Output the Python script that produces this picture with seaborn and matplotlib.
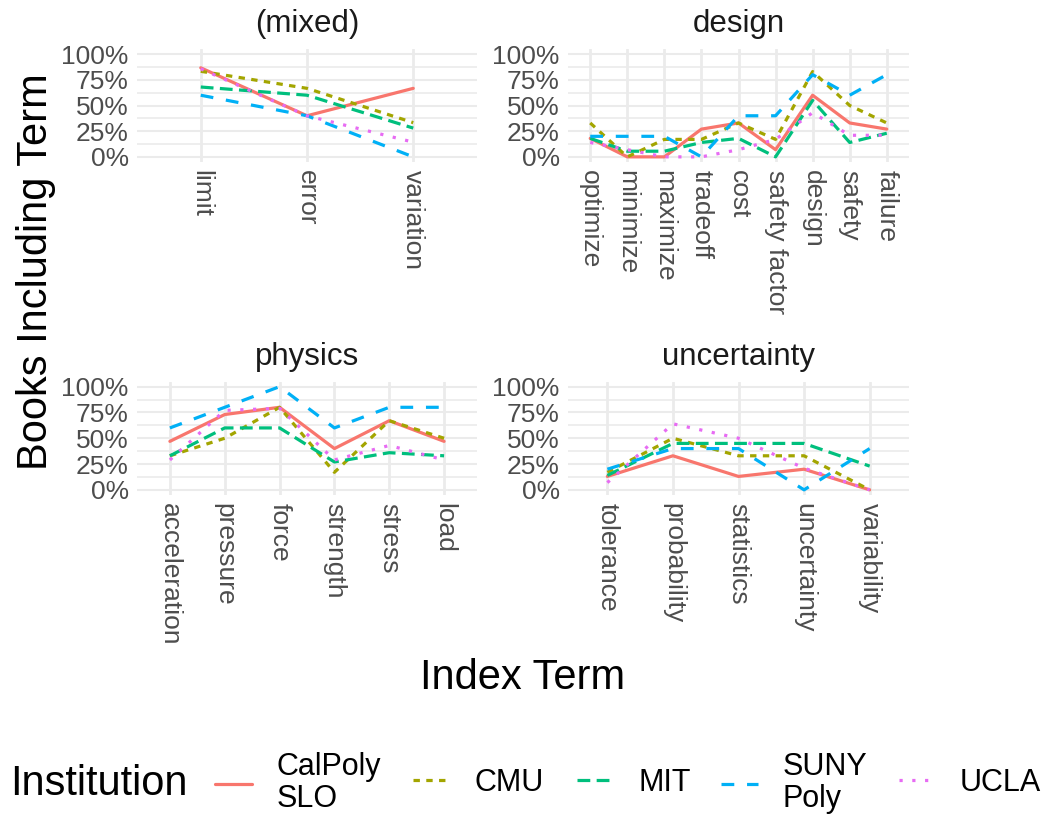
import pandas as pd
import matplotlib
matplotlib.use('Agg')
import matplotlib.pyplot as plt
from matplotlib.lines import Line2D
from matplotlib.ticker import FixedLocator, PercentFormatter
import seaborn as sns

institutions = ['CalPoly SLO', 'CMU', 'MIT', 'SUNY Poly', 'UCLA']
legend_labels = ['CalPoly\nSLO', 'CMU', 'MIT', 'SUNY\nPoly', 'UCLA']
colors = ['#F8766D', '#A3A500', '#00BF7D', '#00B0F6', '#E76BF3']
dash_styles = ['', (2, 2), (4, 2), (4, 4), (1, 3)]

groups = ['(mixed)', 'design', 'physics', 'uncertainty']

mixed_terms = ['limit', 'error', 'variation']
mixed_vals = {
    'CalPoly SLO': [0.867, 0.40, 0.667],
    'CMU': [0.833, 0.667, 0.333],
    'MIT': [0.68, 0.60, 0.28],
    'SUNY Poly': [0.60, 0.40, 0.0],
    'UCLA': [0.857, 0.40, 0.143],
}

design_terms = ['optimize', 'minimize', 'maximize', 'tradeoff', 'cost',
                'safety factor', 'design', 'safety', 'failure']
design_vals = {
    'CalPoly SLO': [0.18, 0.0, 0.0, 0.27, 0.33, 0.07, 0.60, 0.33, 0.27],
    'CMU': [0.33, 0.0, 0.17, 0.17, 0.33, 0.17, 0.83, 0.50, 0.33],
    'MIT': [0.18, 0.055, 0.055, 0.14, 0.18, 0.0, 0.55, 0.14, 0.23],
    'SUNY Poly': [0.20, 0.20, 0.20, 0.0, 0.40, 0.40, 0.80, 0.60, 0.80],
    'UCLA': [0.14, 0.07, 0.0, 0.0, 0.07, 0.17, 0.43, 0.21, 0.21],
}

physics_terms = ['acceleration', 'pressure', 'force', 'strength', 'stress', 'load']
physics_vals = {
    'CalPoly SLO': [0.47, 0.73, 0.80, 0.40, 0.67, 0.47],
    'CMU': [0.33, 0.50, 0.80, 0.17, 0.67, 0.50],
    'MIT': [0.33, 0.60, 0.60, 0.27, 0.36, 0.33],
    'SUNY Poly': [0.60, 0.80, 1.00, 0.60, 0.80, 0.80],
    'UCLA': [0.29, 0.77, 0.79, 0.29, 0.43, 0.29],
}

uncert_terms = ['tolerance', 'probability', 'statistics', 'uncertainty', 'variability']
uncert_vals = {
    'CalPoly SLO': [0.13, 0.33, 0.13, 0.20, 0.0],
    'CMU': [0.17, 0.50, 0.33, 0.33, 0.0],
    'MIT': [0.14, 0.45, 0.45, 0.45, 0.23],
    'SUNY Poly': [0.20, 0.40, 0.40, 0.0, 0.40],
    'UCLA': [0.07, 0.64, 0.50, 0.21, 0.0],
}

panels = [(mixed_terms, mixed_vals), (design_terms, design_vals),
          (physics_terms, physics_vals), (uncert_terms, uncert_vals)]

sns.set_theme(style='white')
plt.rcParams['font.family'] = ['Liberation Sans', 'DejaVu Sans']
plt.rcParams['text.color'] = 'black'

fig = plt.figure(figsize=(10.45, 8.16), dpi=100)
W, H = 1045, 816
# axes boxes in pixels: left, top, right, bottom
boxes = [(137, 49, 477, 162), (568, 49, 909, 162),
         (137, 381.5, 477, 495), (568, 381.5, 909, 495)]

palette = dict(zip(institutions, colors))
dashes = dict(zip(institutions, dash_styles))

for (terms, vals), grp, (l, t, r, b) in zip(panels, groups, boxes):
    ax = fig.add_axes([l / W, 1 - b / H, (r - l) / W, (b - t) / H])
    rows = []
    for inst in institutions:
        for term, v in zip(terms, vals[inst]):
            rows.append({'term': term, 'share': v, 'inst': inst})
    df = pd.DataFrame(rows)
    sns.lineplot(data=df, x='term', y='share', hue='inst', style='inst',
                 palette=palette, dashes=dashes, hue_order=institutions,
                 style_order=institutions, linewidth=2.3, legend=False, ax=ax)
    ax.set_xlim(-0.6, len(terms) - 1 + 0.6)
    ax.set_ylim(-0.05, 1.05)
    ax.yaxis.set_major_locator(FixedLocator([0, 0.25, 0.5, 0.75, 1.0]))
    ax.yaxis.set_minor_locator(FixedLocator([0.125, 0.375, 0.625, 0.875]))
    ax.yaxis.set_major_formatter(PercentFormatter(1.0, decimals=0))
    ax.set_xticks(range(len(terms)))
    ax.set_xticklabels(terms, rotation=-90, ha='center', va='top')
    ax.tick_params(axis='both', length=0, labelsize=19, colors='#4D4D4D', pad=6)
    ax.grid(True, axis='x', which='major', color='#EBEBEB', linewidth=2.0)
    ax.grid(True, axis='y', which='major', color='#EBEBEB', linewidth=1.5)
    ax.grid(True, axis='y', which='minor', color='#EBEBEB', linewidth=1.2)
    ax.set_axisbelow(True)
    for s in ax.spines.values():
        s.set_visible(False)
    ax.set_xlabel('')
    ax.set_ylabel('')
    ax.set_title(grp, fontsize=22.5, color='#1A1A1A', pad=12)

fig.text(36 / W, 1 - 272 / H, 'Books Including Term', rotation=90,
         ha='center', va='center', fontsize=30, color='black')
fig.text(523 / W, 1 - 678 / H, 'Index Term', ha='center', va='center',
         fontsize=30, color='black')

# legend at the bottom, title on the left, one key per entry
fig.text(10 / W, 1 - 784 / H, 'Institution', ha='left', va='center',
         fontsize=30, color='black')
key_x = [215, 413, 577, 721, 899]
for c, d, lab, kx in zip(colors, dash_styles, legend_labels, key_x):
    h = Line2D([], [], color=c, linewidth=2.3,
               linestyle='-' if d == '' else (0, d))
    leg = fig.legend([h], [lab], loc='center left',
                     bbox_to_anchor=(kx / W, 1 - 783 / H),
                     frameon=False, fontsize=22, handlelength=1.2,
                     handletextpad=0.8, borderaxespad=0, borderpad=0)
    for txt in leg.get_texts():
        txt.set_color('black')
        txt.set_linespacing(1.1)

fig.savefig('out.png', dpi=100)
